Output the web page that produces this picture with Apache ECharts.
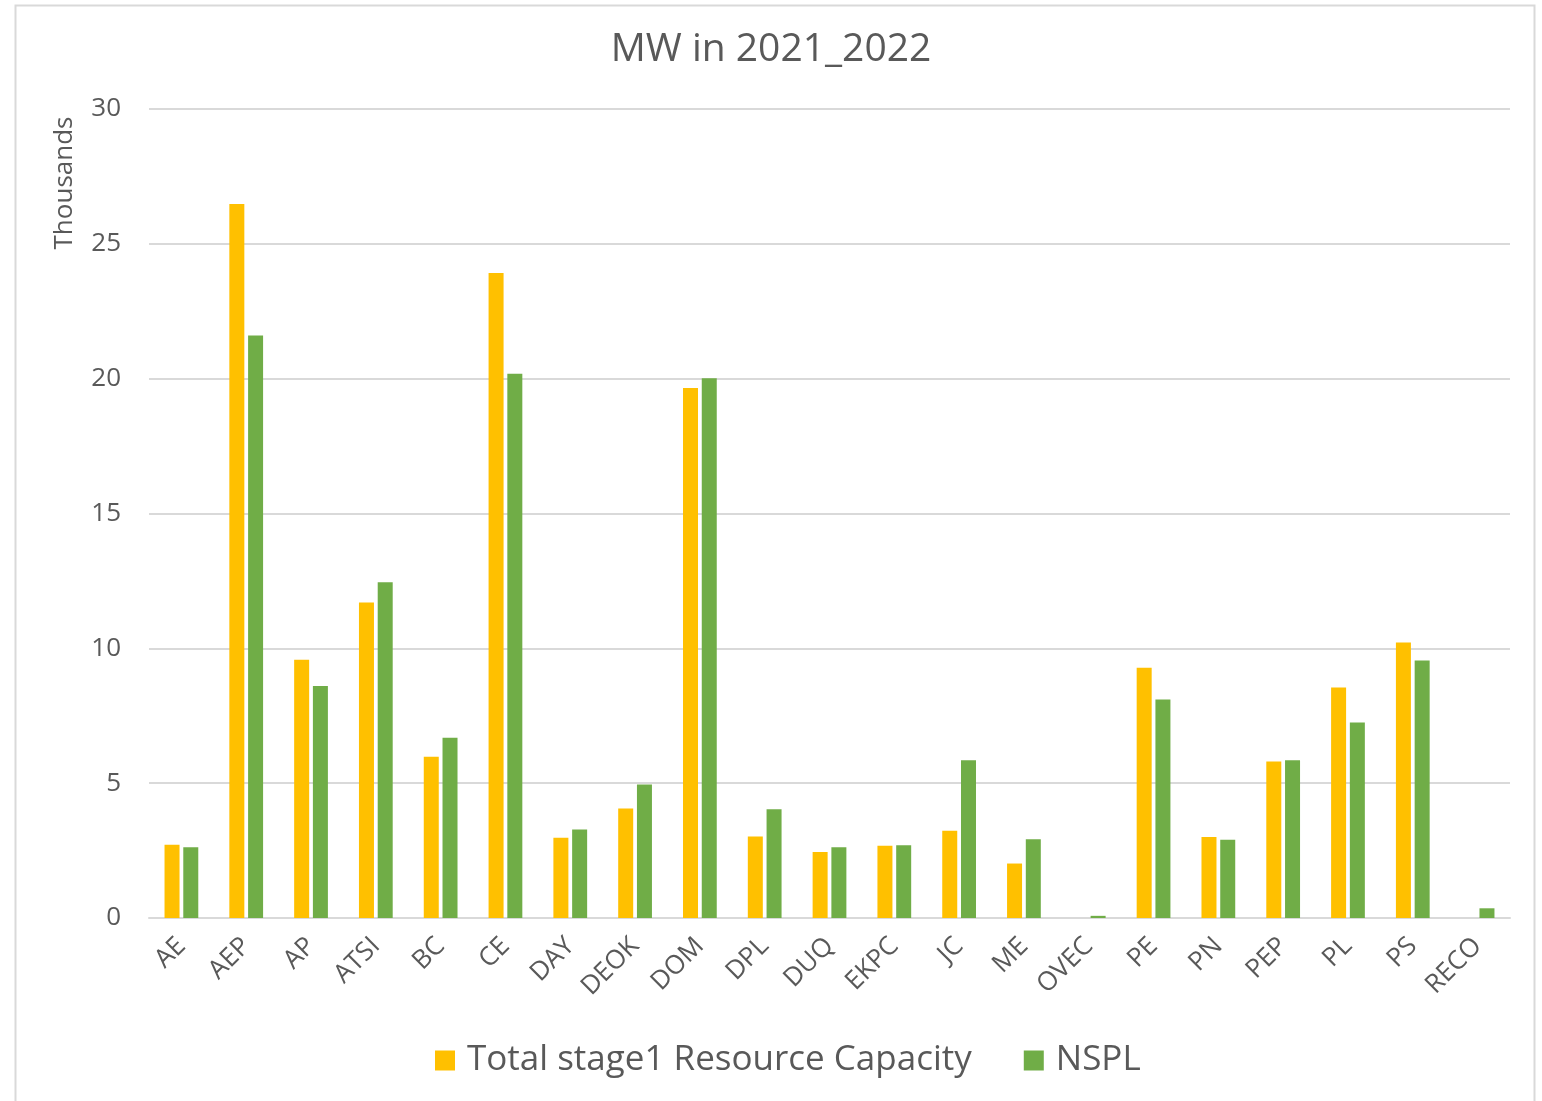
<!DOCTYPE html>
<html>
<head>
<meta charset="utf-8">
<script src="https://cdn.jsdelivr.net/npm/echarts@6/dist/echarts.min.js"></script>
<style>
html,body{margin:0;padding:0;background:#fff;}
#chart{width:1542px;height:1101px;}
</style>
</head>
<body>
<div id="chart"></div>
<script>
const categories = ['AE','AEP','AP','ATSI','BC','CE','DAY','DEOK','DOM','DPL','DUQ','EKPC','JC','ME','OVEC','PE','PN','PEP','PL','PS','RECO'];
const totalStage1 = [2.72, 26.48, 9.58, 11.70, 5.98, 23.92, 2.98, 4.06, 19.65, 3.02, 2.45, 2.68, 3.24, 2.02, 0, 9.28, 3.00, 5.80, 8.55, 10.22, 0];
const nspl = [2.62, 21.60, 8.60, 12.45, 6.68, 20.18, 3.28, 4.95, 20.02, 4.03, 2.62, 2.70, 5.85, 2.92, 0.08, 8.10, 2.90, 5.85, 7.25, 9.55, 0.36];
const yTicks = [0, 5, 10, 15, 20, 25, 30];

const font = "'Open Sans', 'Noto Sans', sans-serif";
const chart = echarts.init(document.getElementById('chart'));
chart.setOption({
  animation: false,
  backgroundColor: '#ffffff',
  title: {
    text: 'MW in 2021_2022',
    left: 'center',
    top: 25,
    textStyle: {fontFamily: font, fontSize: 39, fontWeight: 'normal', color: '#595959'}
  },
  graphic: [
    {type: 'rect', shape: {x: 15.5, y: 5.5, width: 1519, height: 1110}, style: {fill: 'none', stroke: '#d9d9d9', lineWidth: 2}, silent: true},
    {type: 'text', x: 65, y: 183, rotation: Math.PI / 2,
     style: {text: 'Thousands', fontFamily: font, fontSize: 26, fill: '#595959', align: 'center', verticalAlign: 'middle'}}
  ],
  legend: {
    bottom: 18,
    left: 430,
    itemWidth: 20,
    itemHeight: 20,
    itemGap: 52,
    icon: 'rect',
    textStyle: {fontFamily: font, fontSize: 35, color: '#595959', padding: [0, 0, 0, 7]},
    data: ['Total stage1 Resource Capacity', 'NSPL']
  },
  grid: {left: 149, right: 32, top: 109, bottom: 183, containLabel: false},
  xAxis: {
    type: 'category',
    data: categories,
    axisLine: {lineStyle: {color: '#d9d9d9', width: 2}},
    axisTick: {show: false},
    axisLabel: {interval: 0, rotate: 45, fontFamily: font, fontSize: 26, color: '#595959', margin: 24}
  },
  yAxis: {
    type: 'value',
    min: 0, max: 30, interval: 5,
    axisLine: {show: false},
    axisTick: {show: false},
    splitLine: {lineStyle: {color: '#d9d9d9', width: 2}},
    axisLabel: {fontFamily: font, fontSize: 26, color: '#595959', margin: 28}
  },
  series: [
    {name: 'Total stage1 Resource Capacity', type: 'bar', data: totalStage1, barWidth: 15, barGap: '25%',
     itemStyle: {color: '#FFC000'}},
    {name: 'NSPL', type: 'bar', data: nspl, barWidth: 15,
     itemStyle: {color: '#70AD47'}}
  ]
});
</script>
</body>
</html>
